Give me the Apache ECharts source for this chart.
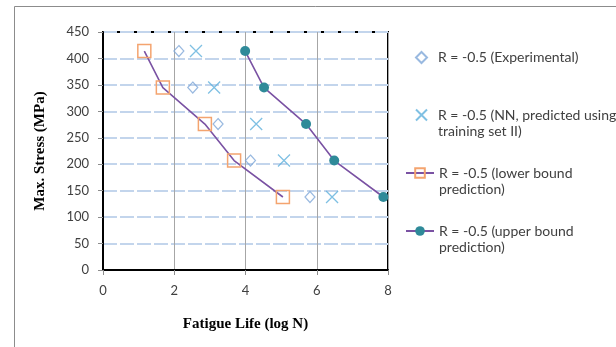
<!DOCTYPE html>
<html>
<head>
<meta charset="utf-8">
<script src="https://cdn.jsdelivr.net/npm/echarts@6/dist/echarts.min.js"></script>
<style>
  html, body { margin: 0; padding: 0; background: #fff; }
  #chart { width: 616px; height: 347px; }
</style>
</head>
<body>
<div id="chart"></div>
<script>
// Stress amplitude levels (MPa) shared by every series
const stressLevels = [414, 345, 276, 207, 138];
// Fatigue life (log N) for each stress level
const experimentalLife = [2.13, 2.52, 3.23, 4.14, 5.81];
const nnPredictedLife = [2.61, 3.12, 4.30, 5.08, 6.43];
const lowerBoundLife = [1.16, 1.68, 2.86, 3.68, 5.05];
const upperBoundLife = [3.99, 4.52, 5.70, 6.49, 7.87];

const seriesNames = [
  'R = -0.5 (Experimental)',
  'R = -0.5 (NN, predicted using\ntraining set II)',
  'R = -0.5 (lower bound\nprediction)',
  'R = -0.5 (upper bound\nprediction)'
];

const pairs = (xs) => xs.map((x, i) => [x, stressLevels[i]]);

const legendFont = { fontFamily: 'Lato', fontSize: 14, color: '#404040', lineHeight: 16 };
// One legend block per series so each entry sits at its own height.
// Two-line labels get a blank leading line so the icon lines up with the first line.
function legendAt(name, top, multi, lineIcon) {
  const iconW = lineIcon ? 28 : 11;
  const left = lineIcon ? 405 : 415;
  const textLeftPad = 437 - (left + iconW + 5);
  return {
    data: [name],
    left: left,
    top: top,
    padding: 0,
    orient: 'vertical',
    itemWidth: iconW,
    itemHeight: lineIcon ? 12 : 11,
    selectedMode: false,
    formatter: multi ? (n) => ' \n' + n : '{name}',
    textStyle: Object.assign({}, legendFont, {
      padding: [0, 0, 0, Math.max(0, textLeftPad)]
    })
  };
}

const chart = echarts.init(document.getElementById('chart'));
chart.setOption({
  animation: false,
  backgroundColor: '#ffffff',
  graphic: [{
    type: 'rect',
    shape: { x: 14.5, y: 6.5, width: 700, height: 400 },
    style: { fill: 'none', stroke: '#8c8c8c', lineWidth: 1 },
    z: 0
  }],
  grid: {
    left: 103, top: 32, right: 228, bottom: 77,
    show: true, borderColor: '#000', borderWidth: 2
  },
  legend: [
    legendAt(seriesNames[0], 49.5, false, false),
    legendAt(seriesNames[1], 91, true, false),
    legendAt(seriesNames[2], 149, true, true),
    legendAt(seriesNames[3], 207, true, true)
  ],
  xAxis: {
    type: 'value', min: 0, max: 8, interval: 2,
    name: 'Fatigue Life (log N)',
    nameLocation: 'middle', nameGap: 47,
    nameTextStyle: { fontFamily: 'Liberation Serif', fontWeight: 'bold', fontSize: 15, color: '#000' },
    axisLine: { show: true, lineStyle: { color: '#000', width: 2 } },
    axisTick: { show: true, length: 5, lineStyle: { color: '#8c8c8c' } },
    axisLabel: { fontFamily: 'Lato', fontSize: 13, color: '#404040', margin: 14 },
    splitLine: { show: true, lineStyle: { color: '#a6a6a6', width: 1 } }
  },
  yAxis: {
    type: 'value', min: 0, max: 450, interval: 50,
    name: 'Max. Stress (MPa)',
    nameLocation: 'middle', nameGap: 55,
    nameTextStyle: { fontFamily: 'Liberation Serif', fontWeight: 'bold', fontSize: 15, color: '#000' },
    axisLine: { show: true, lineStyle: { color: '#000', width: 2 } },
    axisTick: { show: true, length: 5, lineStyle: { color: '#8c8c8c' } },
    axisLabel: { fontFamily: 'Lato', fontSize: 13, color: '#404040', margin: 14 },
    splitLine: { show: true, lineStyle: { color: '#c3d5ec', width: 2, type: [14, 3] } }
  },
  series: [
    {
      name: seriesNames[0], type: 'scatter', data: pairs(experimentalLife),
      symbol: 'diamond', symbolSize: [10, 11],
      itemStyle: { color: 'rgba(255,255,255,0)', borderColor: '#7fa7d8', borderWidth: 1.2 },
      z: 3
    },
    {
      name: seriesNames[1], type: 'scatter', data: pairs(nnPredictedLife),
      symbol: 'path://M0,0L10,10M10,0L0,10', symbolSize: 12,
      itemStyle: { color: 'rgba(255,255,255,0)', borderColor: '#5fb0dc', borderWidth: 1.3 },
      z: 3
    },
    {
      name: seriesNames[2], type: 'line', data: pairs(lowerBoundLife),
      symbol: 'rect', symbolSize: 13,
      lineStyle: { color: '#7a52a3', width: 1.6 },
      itemStyle: { color: 'rgba(255,255,255,0)', borderColor: '#f4a46f', borderWidth: 1.5 },
      z: 4
    },
    {
      name: seriesNames[3], type: 'line', data: pairs(upperBoundLife),
      symbol: 'circle', symbolSize: 10,
      lineStyle: { color: '#7a52a3', width: 1.6 },
      itemStyle: { color: '#2f8a99', borderWidth: 0 },
      z: 4
    }
  ]
});
</script>
</body>
</html>
